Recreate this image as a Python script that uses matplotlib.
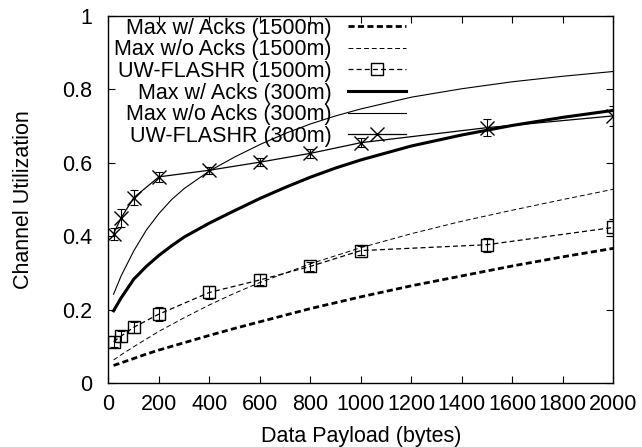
import matplotlib
matplotlib.use("Agg")
import matplotlib.pyplot as plt

plt.rcParams['font.family'] = ['Liberation Sans', 'DejaVu Sans']

# analytical maxima
max_x_1500 = [20, 50, 100, 150, 200, 300, 400, 500, 600, 800, 1000, 1200, 1400, 1600, 1800, 2000]
max_acks_1500 = [0.048, 0.055, 0.067, 0.079, 0.090, 0.110, 0.130, 0.149, 0.167, 0.203, 0.235,
                 0.265, 0.292, 0.319, 0.344, 0.367]
max_noacks_1500 = [0.063, 0.077, 0.099, 0.120, 0.141, 0.178, 0.213, 0.245, 0.274, 0.325, 0.369,
                   0.407, 0.441, 0.471, 0.500, 0.528]

max_x_300 = [20, 50, 100, 150, 200, 250, 300, 400, 500, 600, 700, 800, 900, 1000, 1200, 1400,
             1600, 1800, 2000]
max_acks_300 = [0.197, 0.232, 0.283, 0.318, 0.348, 0.374, 0.398, 0.436, 0.470, 0.503, 0.533,
                0.561, 0.586, 0.608, 0.646, 0.676, 0.702, 0.724, 0.743]
max_noacks_300 = [0.242, 0.292, 0.360, 0.417, 0.462, 0.500, 0.530, 0.578, 0.616, 0.650, 0.680,
                  0.706, 0.728, 0.747, 0.779, 0.802, 0.821, 0.836, 0.849]

# measured UW-FLASHR
meas_x = [20, 50, 100, 200, 400, 600, 800, 1000, 1500, 2000]
flashr_1500 = [0.113, 0.128, 0.152, 0.188, 0.247, 0.281, 0.318, 0.361, 0.377, 0.424]
flashr_1500_err = [0.015, 0.015, 0.015, 0.020, 0.017, 0.015, 0.012, 0.012, 0.019, 0.024]
flashr_300 = [0.407, 0.450, 0.505, 0.562, 0.580, 0.602, 0.626, 0.655, 0.696, 0.728]
flashr_300_err = [0.016, 0.024, 0.020, 0.014, 0.010, 0.010, 0.012, 0.013, 0.023, 0.028]

x_ticks = [0, 200, 400, 600, 800, 1000, 1200, 1400, 1600, 1800, 2000]
y_ticks = [0, 0.2, 0.4, 0.6, 0.8, 1]
y_tick_labels = ['0', '0.2', '0.4', '0.6', '0.8', '1']

fs = 15.5

fig = plt.figure(figsize=(6.42, 4.47), dpi=100)
ax = fig.add_axes([0.169, 0.143, 0.786, 0.821])

ax.plot(max_x_1500, max_acks_1500, color='black', lw=2.0, ls=(0, (2.2, 1.2)),
        label='Max w/ Acks (1500m)')
ax.plot(max_x_1500, max_noacks_1500, color='black', lw=0.7, ls=(0, (5, 3)),
        label='Max w/o Acks (1500m)')
ax.errorbar(meas_x, flashr_1500, yerr=flashr_1500_err, fmt='none', ecolor='black',
            elinewidth=0.8, capsize=3, capthick=0.8)
ax.plot(meas_x, flashr_1500, color='black', lw=0.9, ls=(0, (4, 2.5)), marker='s',
        ms=9, mfc='none', mec='black', mew=1.0, label='UW-FLASHR (1500m)')
ax.plot(max_x_300, max_acks_300, color='black', lw=2.2, label='Max w/ Acks (300m)')
ax.plot(max_x_300, max_noacks_300, color='black', lw=0.8, label='Max w/o Acks (300m)')
ax.errorbar(meas_x, flashr_300, yerr=flashr_300_err, fmt='none', ecolor='black',
            elinewidth=0.8, capsize=3, capthick=0.8)
ax.plot(meas_x, flashr_300, color='black', lw=0.9, marker='x', ms=10, mew=1.0,
        label='UW-FLASHR (300m)')

ax.set_xlim(0, 2000)
ax.set_ylim(0, 1)
ax.set_xticks(x_ticks)
ax.set_yticks(y_ticks)
ax.set_yticklabels(y_tick_labels)
ax.tick_params(direction='in', top=True, right=True, length=5, width=0.8,
               labelsize=fs)
ax.tick_params(axis='x', pad=8)
ax.tick_params(axis='y', pad=12)
for s in ax.spines.values():
    s.set_linewidth(1.0)

ax.set_xlabel('Data Payload (bytes)', fontsize=fs, labelpad=8)
ax.set_ylabel('Channel Utilization', fontsize=fs, labelpad=20)

ax.legend(loc='upper right', bbox_to_anchor=(0.5897, 0.995), frameon=False,
          markerfirst=False, fontsize=fs, handlelength=2.7, handletextpad=0.75,
          labelspacing=0.025, borderpad=0, borderaxespad=0)

fig.savefig('out.png', dpi=100)
